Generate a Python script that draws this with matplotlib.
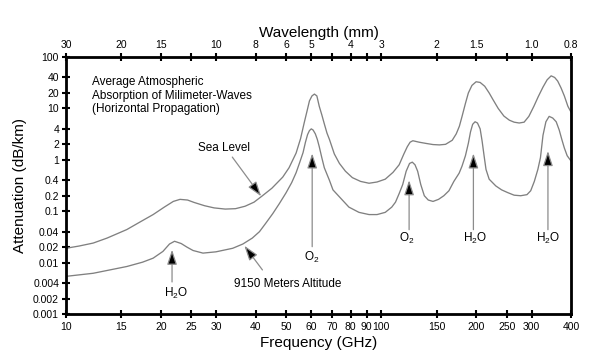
import matplotlib
matplotlib.use("Agg")
import matplotlib.pyplot as plt

plt.rcParams['font.family'] = ['Liberation Sans', 'DejaVu Sans']
plt.rcParams['mathtext.default'] = 'regular'

# ---- data ----
sea_freq = [10, 11, 12.2, 13.5, 15.6, 17.2, 18.9, 20.5, 21.9, 23, 24.3, 25.5, 27.5, 29.5,
            32, 34.5, 37, 39.5, 42, 45, 48.7, 51, 53.7, 55.5, 57, 58.2, 59.2, 60.3, 61.4,
            62.5, 63.6, 64.8, 66, 67.3, 68.5, 71, 73.7, 77, 81, 86, 91.5, 97, 103, 109,
            114, 118, 121, 123.5, 126, 132, 139, 146, 153, 160, 168, 173, 177, 180.5, 185,
            189, 194, 200, 206, 213, 220, 226, 235, 245, 255, 264, 274, 284, 294, 305, 315,
            326, 336, 346, 355, 363, 372, 381, 391, 400]
sea_att = [0.019, 0.021, 0.024, 0.030, 0.044, 0.062, 0.086, 0.12, 0.155, 0.17, 0.165, 0.148,
           0.128, 0.116, 0.110, 0.112, 0.125, 0.15, 0.2, 0.28, 0.46, 0.7, 1.35, 2.6, 5.3, 9,
           14, 17.5, 19, 17.5, 11, 7.5, 5, 3.3, 2.5, 1.3, 0.85, 0.6, 0.45, 0.38, 0.35, 0.37,
           0.42, 0.57, 0.8, 1.3, 1.8, 2.2, 2.35, 2.2, 2.08, 1.98, 1.95, 2.0, 2.4, 3.2, 4.5, 7,
           12.5, 20, 28, 33, 32, 27, 20, 15, 10, 7.1, 5.9, 5.4, 5.2, 5.4, 7, 11, 17, 26, 36,
           43, 40, 34, 25, 17.5, 11, 8.5]

alt_freq = [10, 12.2, 15.6, 17.5, 18.9, 20.3, 21.3, 22.1, 23.2, 24.2, 25.3, 27.2, 29.9, 33.8,
            36.4, 39, 41.1, 43, 45.3, 47.5, 49.9, 52, 53.7, 55, 56.5, 57.5, 58.4, 59.2, 60,
            60.8, 61.8, 62.7, 63.6, 64.8, 66, 68.5, 70.3, 73.7, 79, 85, 91.5, 97, 103, 108,
            111, 114, 117, 120, 123, 125.5, 128, 130.5, 133.5, 137, 141, 146, 152, 158, 164,
            170, 176.7, 180.4, 185, 189, 192, 195, 198.5, 202, 206, 209, 212, 215, 220, 231,
            241, 252, 264, 277, 290, 298, 306, 314, 320, 326, 333, 341, 350, 359, 367, 374,
            381, 389, 400]
alt_att = [0.0054, 0.0062, 0.0084, 0.0102, 0.0122, 0.0165, 0.023, 0.026, 0.0235, 0.020,
           0.0172, 0.0153, 0.0162, 0.019, 0.023, 0.030, 0.040, 0.058, 0.09, 0.14, 0.228, 0.36,
           0.56, 0.85, 1.38, 2.2, 3.1, 3.7, 4.0, 3.8, 3.2, 2.5, 1.8, 1.1, 0.7, 0.4, 0.26,
           0.19, 0.12, 0.095, 0.086, 0.086, 0.095, 0.12, 0.15, 0.22, 0.33, 0.6, 0.85, 0.9,
           0.8, 0.6, 0.33, 0.2, 0.165, 0.155, 0.17, 0.2, 0.25, 0.38, 0.55, 0.75, 1.2, 2.1,
           3.5, 4.9, 5.5, 5.2, 4.0, 2.3, 1.2, 0.65, 0.42, 0.31, 0.26, 0.23, 0.205, 0.2, 0.21,
           0.25, 0.38, 0.65, 1.1, 3.0, 5.5, 7.0, 6.5, 5.5, 3.8, 2.5, 1.7, 1.2, 0.95]

freq_ticks = [10, 15, 20, 25, 30, 40, 50, 60, 70, 80, 90, 100, 150, 200, 250, 300, 400]
freq_labels = ['10', '15', '20', '25', '30', '40', '50', '60', '70', '80', '90', '100',
               '150', '200', '250', '300', '400']
wave_labels = ['30', '20', '15', '', '10', '8', '6', '5', '', '4', '', '3', '2', '1.5', '',
               '1.0', '0.8']
att_ticks = [100, 40, 20, 10, 4, 2, 1, 0.4, 0.2, 0.1, 0.04, 0.02, 0.01, 0.004, 0.002, 0.001]
att_labels = ['100', '40', '20', '10', '4', '2', '1', '0.4', '0.2', '0.1', '0.04', '0.02',
              '0.01', '0.004', '0.002', '0.001']

# ---- figure ----
fig = plt.figure(figsize=(6.02, 3.62), dpi=100)
ax = fig.add_axes([0.1096, 0.1326, 0.8389, 0.7099])

curve_col = '0.5'
ax.plot(sea_freq, sea_att, color=curve_col, lw=0.95)
ax.plot(alt_freq, alt_att, color=curve_col, lw=0.95)

ax.set_xscale('log')
ax.set_yscale('log')
ax.set_xlim(10, 400)
ax.set_ylim(0.001, 100)

ax.minorticks_off()
ax.set_xticks(freq_ticks)
ax.set_xticklabels(freq_labels)
ax.set_yticks(att_ticks)
ax.set_yticklabels(att_labels)
ax.tick_params(axis='both', which='major', direction='inout', length=6, width=1.5,
               labelsize=7.5, pad=2)
ax.tick_params(axis='x', pad=3)
for s in ax.spines.values():
    s.set_linewidth(2)

ax.set_xlabel('Frequency (GHz)', fontsize=11, labelpad=3)
ax.set_ylabel('Attenuation (dB/km)', fontsize=11, labelpad=4)

# top wavelength axis
ax2 = ax.twiny()
ax2.set_xscale('log')
ax2.set_xlim(10, 400)
ax2.minorticks_off()
ax2.set_xticks(freq_ticks)
ax2.set_xticklabels(wave_labels)
ax2.tick_params(axis='x', which='major', direction='inout', length=6, width=1.5,
                labelsize=7.5, pad=2)
ax2.set_xlabel('Wavelength (mm)', fontsize=11, labelpad=2)

# title block
ax.text(0.0515, 0.925, 'Average Atmospheric\nAbsorption of Milimeter-Waves\n(Horizontal Propagation)',
        transform=ax.transAxes, ha='left', va='top', fontsize=8.5, linespacing=1.15)

arrow_kw = dict(arrowstyle='-|>,head_length=0.9,head_width=0.3', ec='0.55', fc='black',
                lw=0.9, shrinkA=0, shrinkB=0, mutation_scale=10)

def arrow(tail, tip):
    ax.annotate('', xy=tip, xytext=tail, arrowprops=arrow_kw)

# Sea level
ax.text(0.313, 0.646, 'Sea Level', transform=ax.transAxes, ha='center', va='center', fontsize=8.5)
arrow((33.7, 1.13), (41.6, 0.195))
# 9150 m
ax.text(34.2, 0.0038, '9150 Meters Altitude', ha='left', va='center', fontsize=8.5)
arrow((42.0, 0.0072), (36.8, 0.0213))
# line labels
ax.text(22.3, 0.00253, 'H$_2$O', ha='center', va='center', fontsize=8.5)
arrow((21.7, 0.0042), (21.7, 0.0178))
ax.text(60.4, 0.0128, 'O$_2$', ha='center', va='center', fontsize=8.5)
arrow((60.4, 0.0204), (60.4, 1.33))
ax.text(120.5, 0.0292, 'O$_2$', ha='center', va='center', fontsize=8.5)
arrow((122.6, 0.0437), (122.6, 0.40))
ax.text(198.6, 0.0292, 'H$_2$O', ha='center', va='center', fontsize=8.5)
arrow((196.1, 0.0437), (196.1, 1.33))
ax.text(338, 0.0292, 'H$_2$O', ha='center', va='center', fontsize=8.5)
arrow((338, 0.0437), (338, 1.48))

fig.savefig('out.png', dpi=100)
